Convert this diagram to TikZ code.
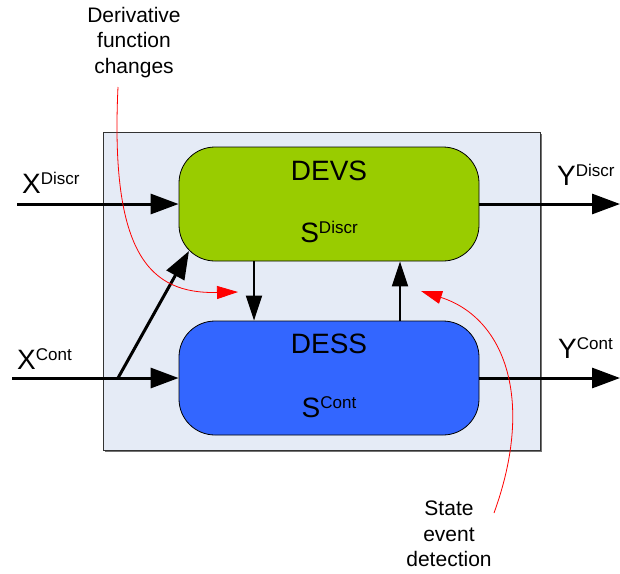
\documentclass[tikz,border=0pt]{standalone}
\usepackage{fontspec}
\setmainfont{Liberation Sans}
\usetikzlibrary{arrows.meta}
\definecolor{panel}{HTML}{E5EBF6}
\definecolor{devsgreen}{HTML}{99CC00}
\definecolor{dessblue}{HTML}{3366FF}
\definecolor{frame}{HTML}{333333}
% symbol with a raised, smaller superscript tag
\newcommand\withsup[2]{#1\raisebox{9pt}{\fontsize{17}{17}\selectfont #2}}

\begin{document}
\begin{tikzpicture}[x=1pt,y=-1pt,
  panelbox/.style={draw=frame, line width=0.8pt, fill=panel, minimum width=437pt, minimum height=318pt, inner sep=0pt},
  model/.style={draw=black, line width=0.8pt, rounded corners=36pt, minimum width=300pt, minimum height=114pt, inner sep=0pt},
  bigtxt/.style={inner sep=0pt, font=\fontsize{28}{28}\selectfont},
  notetxt/.style={inner sep=0pt, align=center, font=\fontsize{21}{25.5}\selectfont},
  flow/.style={line width=3pt, -{Triangle[length=28pt,width=20pt]}},
  link/.style={line width=2pt, -{Triangle[length=25pt,width=16pt]}},
  remark/.style={red, line width=0.8pt, -{Triangle[length=21pt,width=13pt]}}
]
\useasboundingbox (0,0) rectangle (620,573);

% enclosing system panel with a soft shadow
\fill[black!55] (105,134) rectangle (541.5,451.5);
\node[panelbox] (sys) at (321.5,291) {};

% the two sub-models
\node[model, fill=devsgreen] (devs) at (329,204) {};
\node[model, fill=dessblue] (dess) at (329,378) {};

\node[bigtxt, anchor=base] (devst) at (329,180) {DEVS};
\node[bigtxt, anchor=base] (devss) at (329,242) {\withsup{S}{Discr}};
\node[bigtxt, anchor=base] (desst) at (329,353) {DESS};
\node[bigtxt, anchor=base] (desss) at (329,417) {\withsup{S}{Cont}};

% inputs and outputs
\coordinate (xdin) at (17,204);
\coordinate (xcin) at (12,378);
\coordinate (ydout) at (620,204);
\coordinate (ycout) at (620,378);
\coordinate (split) at (118,378);
\coordinate (corner) at (189,251);

\draw[flow] (xdin) -- (devs.west);
\draw[flow] (xcin) -- (dess.west);
\draw[flow] (split) -- (corner);
\draw[flow] (devs.east) -- (ydout);
\draw[flow] (dess.east) -- (ycout);

\node[bigtxt, anchor=base west] (xdl) at (22,193) {\withsup{X}{Discr}};
\node[bigtxt, anchor=base west] (xcl) at (17,369) {\withsup{X}{Cont}};
\node[bigtxt, anchor=base west] (ydl) at (557,185) {\withsup{Y}{Discr}};
\node[bigtxt, anchor=base west] (ycl) at (558,358) {\withsup{Y}{Cont}};

% coupling between the sub-models
\coordinate (down) at (254,290);
\coordinate (up) at (400,290);
\draw[link] (down |- devs.south) -- (down |- dess.north);
\draw[link] (up |- dess.north) -- (up |- devs.south);

% annotations
\node[notetxt, anchor=north] (deriv) at (134,7) {Derivative\\function\\changes};
\node[notetxt, anchor=north] (state) at (449,501) {State\\event\\detection};
\coordinate (derivend) at (238,292);
\coordinate (stateend) at (421,291);
\coordinate (derivstart) at (118,87);
\coordinate (statestart) at (494,513);
\draw[remark] (derivstart) .. controls (110,255) and (150,294) .. (derivend);
\draw[remark] (statestart) .. controls (535,400) and (505,318) .. (stateend);
\end{tikzpicture}
\end{document}
